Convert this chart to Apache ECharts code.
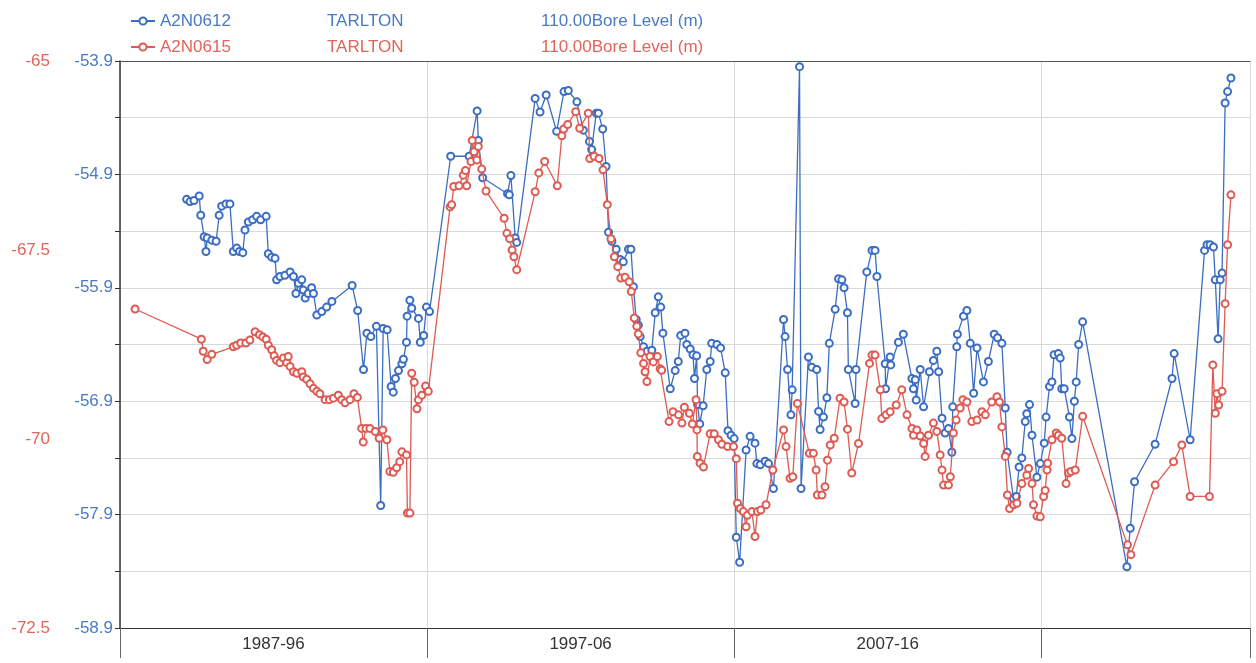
<!DOCTYPE html>
<html><head><meta charset="utf-8">
<script src="https://cdn.jsdelivr.net/npm/echarts/dist/echarts.min.js"></script>
<style>html,body{margin:0;padding:0;background:#fff}#c{width:1256px;height:663px}</style>
</head><body><div id="c"></div>
<script>
const seriesNames = ['A2N0612', 'A2N0615'];
const siteNames = ['TARLTON', 'TARLTON'];
const measureNames = ['110.00Bore Level (m)', '110.00Bore Level (m)'];
const decadeLabels = ['1987-96', '1997-06', '2007-16'];
const decadeMidYears = [1992, 2002, 2012];
const yearRange = [1987, 2023.8];
const blueAxisRange = [-58.9, -53.9, 1];
const redAxisRange = [-72.5, -65, 2.5];

// [decimal year, bore level (m)] for A2N0612
const blueReadings = [
[1989.17,-55.12],[1989.28,-55.14],[1989.41,-55.13],[1989.58,-55.09],[1989.63,-55.26],[1989.74,-55.45],[1989.80,-55.58],[1989.84,-55.46],
[1989.99,-55.48],[1990.13,-55.49],[1990.23,-55.26],[1990.31,-55.18],[1990.45,-55.16],[1990.58,-55.16],[1990.69,-55.58],[1990.80,-55.55],
[1990.89,-55.58],[1991.00,-55.59],[1991.07,-55.39],[1991.18,-55.32],[1991.32,-55.30],[1991.45,-55.27],[1991.58,-55.30],[1991.76,-55.27],
[1991.83,-55.60],[1991.94,-55.63],[1992.05,-55.64],[1992.10,-55.83],[1992.21,-55.80],[1992.37,-55.79],[1992.54,-55.76],[1992.65,-55.80],
[1992.73,-55.95],[1992.81,-55.86],[1992.92,-55.83],[1992.97,-55.92],[1993.03,-55.99],[1993.13,-55.95],[1993.24,-55.90],[1993.30,-55.95],
[1993.41,-56.14],[1993.57,-56.11],[1993.73,-56.07],[1993.90,-56.02],[1994.56,-55.88],[1994.74,-56.10],[1994.93,-56.62],[1995.04,-56.30],
[1995.17,-56.33],[1995.35,-56.24],[1995.49,-57.82],[1995.57,-56.26],[1995.70,-56.27],[1995.83,-56.77],[1995.90,-56.82],[1995.97,-56.70],
[1996.07,-56.63],[1996.18,-56.57],[1996.23,-56.53],[1996.33,-56.38],[1996.35,-56.15],[1996.44,-56.01],[1996.50,-56.08],[1996.72,-56.17],
[1996.78,-56.38],[1996.89,-56.32],[1996.98,-56.07],[1997.08,-56.11],[1997.77,-54.74],[1998.37,-54.74],[1998.63,-54.34],[1998.67,-54.60],
[1998.81,-54.93],[1999.62,-55.07],[1999.68,-55.08],[1999.73,-54.91],[1999.87,-55.46],[1999.92,-55.50],[2000.52,-54.23],[2000.68,-54.35],
[2000.88,-54.20],[2001.22,-54.52],[2001.46,-54.17],[2001.60,-54.16],[2001.88,-54.26],[2002.09,-54.51],[2002.29,-54.61],[2002.36,-54.68],
[2002.51,-54.36],[2002.58,-54.36],[2002.72,-54.50],[2002.83,-54.83],[2002.91,-55.41],[2003.02,-55.49],[2003.16,-55.56],[2003.29,-55.65],
[2003.39,-55.67],[2003.56,-55.56],[2003.64,-55.56],[2003.72,-55.89],[2003.81,-56.18],[2003.88,-56.23],[2003.94,-56.33],[2004.05,-56.42],
[2004.16,-56.46],[2004.32,-56.45],[2004.43,-56.12],[2004.53,-55.98],[2004.61,-56.07],[2004.68,-56.30],[2004.92,-56.79],[2005.08,-56.63],
[2005.18,-56.55],[2005.26,-56.32],[2005.40,-56.30],[2005.46,-56.40],[2005.57,-56.44],[2005.66,-56.49],[2005.71,-56.70],[2005.78,-56.50],
[2005.81,-56.93],[2005.88,-57.10],[2005.99,-56.94],[2006.11,-56.62],[2006.22,-56.55],[2006.27,-56.39],[2006.44,-56.40],[2006.56,-56.43],
[2006.71,-56.65],[2006.80,-57.16],[2006.90,-57.20],[2007.00,-57.23],[2007.07,-58.10],[2007.18,-58.32],[2007.39,-57.33],[2007.52,-57.21],
[2007.68,-57.27],[2007.74,-57.45],[2007.85,-57.46],[2008.01,-57.43],[2008.12,-57.45],[2008.28,-57.67],[2008.61,-56.18],[2008.66,-56.33],
[2008.74,-56.62],[2008.85,-57.02],[2008.89,-56.80],[2009.13,-53.95],[2009.18,-57.67],[2009.42,-56.51],[2009.53,-56.60],[2009.69,-56.62],
[2009.75,-56.99],[2009.80,-57.15],[2009.91,-57.04],[2010.02,-56.87],[2010.10,-56.39],[2010.29,-56.09],[2010.40,-55.82],[2010.51,-55.83],
[2010.58,-55.90],[2010.69,-56.12],[2010.72,-56.62],[2010.94,-56.92],[2010.97,-56.62],[2011.32,-55.76],[2011.49,-55.57],[2011.59,-55.57],
[2011.65,-55.80],[2011.92,-56.57],[2011.93,-56.79],[2012.08,-56.51],[2012.10,-56.58],[2012.35,-56.38],[2012.51,-56.31],[2012.79,-56.70],
[2012.84,-56.79],[2012.90,-56.71],[2012.93,-56.89],[2013.06,-56.62],[2013.17,-56.95],[2013.36,-56.64],[2013.49,-56.54],[2013.60,-56.46],
[2013.66,-56.64],[2013.77,-57.05],[2013.87,-57.18],[2013.98,-57.14],[2014.09,-57.35],[2014.12,-56.95],[2014.25,-56.42],[2014.27,-56.31],
[2014.47,-56.15],[2014.58,-56.10],[2014.69,-56.39],[2014.80,-56.83],[2014.91,-56.43],[2015.12,-56.73],[2015.28,-56.55],[2015.47,-56.31],
[2015.58,-56.34],[2015.72,-56.39],[2015.83,-56.96],[2015.89,-57.35],[2016.10,-57.76],[2016.19,-57.74],[2016.28,-57.48],[2016.37,-57.40],
[2016.48,-57.08],[2016.53,-57.01],[2016.62,-56.93],[2016.70,-57.20],[2016.86,-57.57],[2016.97,-57.45],[2017.10,-57.27],[2017.16,-57.04],
[2017.27,-56.77],[2017.35,-56.73],[2017.42,-56.49],[2017.56,-56.48],[2017.62,-56.52],[2017.67,-56.79],[2017.75,-56.79],[2017.92,-57.04],
[2018.00,-57.23],[2018.08,-56.90],[2018.14,-56.73],[2018.22,-56.40],[2018.35,-56.20],[2019.79,-58.36],[2019.90,-58.02],[2020.04,-57.61],
[2020.71,-57.28],[2021.26,-56.70],[2021.33,-56.48],[2021.85,-57.24],[2022.32,-55.57],[2022.40,-55.52],[2022.50,-55.52],[2022.61,-55.54],
[2022.67,-55.83],[2022.76,-56.35],[2022.83,-55.83],[2022.89,-55.77],[2022.99,-54.27],[2023.07,-54.17],[2023.18,-54.05]
];

// [decimal year, bore level (m)] for A2N0615
const redReadings = [
[1987.49,-68.28],[1989.65,-68.68],[1989.71,-68.84],[1989.84,-68.95],[1989.99,-68.88],[1990.69,-68.78],[1990.80,-68.76],[1990.93,-68.73],
[1991.10,-68.73],[1991.23,-68.69],[1991.40,-68.58],[1991.54,-68.62],[1991.65,-68.65],[1991.76,-68.68],[1991.83,-68.76],[1991.94,-68.82],
[1992.02,-68.90],[1992.10,-68.96],[1992.21,-68.99],[1992.32,-68.93],[1992.43,-68.99],[1992.48,-68.91],[1992.54,-69.04],[1992.65,-69.11],
[1992.76,-69.13],[1992.92,-69.11],[1992.97,-69.18],[1993.08,-69.21],[1993.19,-69.27],[1993.30,-69.33],[1993.41,-69.37],[1993.51,-69.40],
[1993.68,-69.48],[1993.82,-69.48],[1993.95,-69.46],[1994.11,-69.42],[1994.22,-69.48],[1994.33,-69.52],[1994.49,-69.48],[1994.62,-69.40],
[1994.73,-69.45],[1994.87,-69.86],[1994.92,-70.04],[1995.01,-69.86],[1995.14,-69.86],[1995.31,-69.90],[1995.44,-69.99],[1995.56,-69.88],
[1995.69,-70.01],[1995.79,-70.43],[1995.90,-70.44],[1996.01,-70.38],[1996.11,-70.30],[1996.18,-70.17],[1996.33,-70.21],[1996.36,-70.98],
[1996.44,-70.98],[1996.50,-69.13],[1996.58,-69.25],[1996.67,-69.60],[1996.72,-69.48],[1996.83,-69.42],[1996.95,-69.30],[1997.04,-69.37],
[1997.75,-66.93],[1997.80,-66.90],[1997.87,-66.66],[1998.04,-66.65],[1998.18,-66.51],[1998.25,-66.45],[1998.29,-66.65],[1998.43,-66.33],
[1998.47,-66.05],[1998.53,-66.20],[1998.62,-66.31],[1998.67,-66.13],[1998.78,-66.43],[1998.92,-66.72],[1999.51,-67.08],[1999.60,-67.28],
[1999.69,-67.35],[1999.77,-67.50],[1999.83,-67.59],[1999.92,-67.76],[2000.52,-66.73],[2000.64,-66.48],[2000.83,-66.33],[2001.24,-66.65],
[2001.39,-65.99],[2001.45,-65.90],[2001.58,-65.84],[2001.84,-65.67],[2001.97,-65.89],[2002.25,-65.69],[2002.30,-66.29],[2002.44,-66.26],
[2002.60,-66.29],[2002.73,-66.44],[2002.87,-66.90],[2002.99,-67.35],[2003.10,-67.59],[2003.21,-67.72],[2003.31,-67.87],[2003.45,-67.86],
[2003.58,-67.92],[2003.65,-68.05],[2003.75,-68.40],[2003.83,-68.51],[2003.88,-68.61],[2003.96,-68.86],[2004.05,-69.00],[2004.10,-69.11],
[2004.16,-69.24],[2004.26,-68.91],[2004.37,-68.98],[2004.50,-68.91],[2004.59,-69.07],[2004.64,-69.09],[2004.88,-69.77],[2005.01,-69.64],
[2005.19,-69.68],[2005.30,-69.79],[2005.38,-69.58],[2005.54,-69.66],[2005.64,-69.80],[2005.76,-69.48],[2005.79,-69.88],[2005.80,-70.23],
[2005.89,-70.32],[2006.00,-70.37],[2006.22,-69.93],[2006.35,-69.93],[2006.49,-70.01],[2006.60,-70.07],[2006.79,-70.10],[2006.98,-70.10],
[2007.07,-70.26],[2007.11,-70.85],[2007.20,-70.92],[2007.30,-70.96],[2007.39,-71.16],[2007.43,-71.01],[2007.58,-70.96],[2007.68,-71.29],
[2007.76,-70.96],[2007.87,-70.94],[2008.04,-70.87],[2008.26,-70.41],[2008.61,-69.88],[2008.69,-70.10],[2008.82,-70.52],[2008.91,-70.50],
[2009.06,-69.53],[2009.45,-70.19],[2009.58,-70.19],[2009.67,-70.41],[2009.71,-70.74],[2009.86,-70.74],[2009.96,-70.63],[2010.04,-70.28],
[2010.13,-70.08],[2010.26,-69.99],[2010.45,-69.46],[2010.58,-69.51],[2010.69,-69.87],[2010.83,-70.45],[2011.05,-70.06],[2011.41,-69.00],
[2011.49,-68.89],[2011.59,-68.89],[2011.76,-69.35],[2011.81,-69.73],[2011.95,-69.68],[2012.08,-69.64],[2012.28,-69.55],[2012.46,-69.35],
[2012.63,-69.68],[2012.79,-69.86],[2012.84,-69.95],[2012.95,-69.88],[2013.06,-69.96],[2013.17,-70.06],[2013.22,-70.23],[2013.33,-69.95],
[2013.49,-69.79],[2013.60,-69.90],[2013.71,-70.21],[2013.77,-70.41],[2013.82,-70.61],[2013.98,-70.61],[2014.04,-70.50],[2014.14,-69.92],
[2014.23,-69.75],[2014.36,-69.59],[2014.45,-69.48],[2014.58,-69.51],[2014.74,-69.77],[2014.91,-69.75],[2015.07,-69.64],[2015.18,-69.68],
[2015.39,-69.51],[2015.56,-69.44],[2015.64,-69.51],[2015.72,-69.84],[2015.83,-70.23],[2015.90,-70.74],[2015.97,-70.92],[2016.10,-70.87],
[2016.21,-70.85],[2016.37,-70.59],[2016.53,-70.48],[2016.59,-70.39],[2016.70,-70.59],[2016.75,-70.87],[2016.86,-71.02],[2016.97,-71.03],
[2017.08,-70.76],[2017.13,-70.68],[2017.19,-70.41],[2017.21,-70.32],[2017.35,-70.01],[2017.49,-69.92],[2017.56,-69.95],[2017.67,-69.99],
[2017.81,-70.59],[2017.89,-70.45],[2017.97,-70.43],[2018.11,-70.41],[2018.35,-69.70],[2019.81,-71.40],[2019.92,-71.53],[2020.71,-70.61],
[2021.31,-70.30],[2021.58,-70.08],[2021.85,-70.76],[2022.48,-70.76],[2022.59,-69.02],[2022.67,-69.66],[2022.72,-69.40],[2022.78,-69.55],
[2022.89,-69.37],[2022.99,-68.21],[2023.07,-67.43],[2023.18,-66.77]
];

const blueLine = '#3b6dc2', redLine = '#de5a52';
const blueText = '#4a7ac6', redText = '#e2645a';
const FONT = '"Liberation Sans", Arial, sans-serif';

const chart = echarts.init(document.getElementById('c'), null, {renderer: 'canvas'});
chart.setOption({
  animation: false,
  backgroundColor: '#ffffff',
  textStyle: {fontFamily: FONT},
  grid: {left: 120, right: 6, top: 61, bottom: 35},
  legend: {
    orient: 'vertical', left: 125, top: 6, itemWidth: 24, itemHeight: 9, itemGap: 6,
    selectedMode: false,
    data: [
      {name: seriesNames[0], textStyle: {color: blueText}},
      {name: seriesNames[1], textStyle: {color: redText}}
    ],
    formatter: function (name) {
      const i = seriesNames.indexOf(name);
      return '{a|' + seriesNames[i] + '}{b|' + siteNames[i] + '}{c|' + measureNames[i] + '}';
    },
    textStyle: {
      fontSize: 17, fontFamily: FONT, lineHeight: 20,
      rich: {a: {width: 167, fontSize: 17}, b: {width: 214, fontSize: 17}, c: {fontSize: 17}}
    }
  },
  xAxis: [
    {
      type: 'value', min: yearRange[0], max: yearRange[1], interval: 5, position: 'bottom',
      axisLine: {show: true, lineStyle: {color: '#333', width: 1.2}},
      axisTick: {show: false}, splitLine: {show: false},
      axisLabel: {
        color: '#333', fontSize: 17, fontFamily: FONT, margin: 8,
        formatter: function (v) {
          const i = decadeMidYears.indexOf(Math.round(v));
          return (i >= 0 && Math.abs(v - decadeMidYears[i]) < 1e-6) ? decadeLabels[i] : '';
        }
      }
    },
    {
      type: 'value', min: yearRange[0], max: yearRange[1], interval: 10, position: 'bottom',
      axisLine: {show: false},
      axisTick: {show: true, length: 30, lineStyle: {color: '#666'}},
      axisLabel: {show: false},
      splitLine: {show: true, lineStyle: {color: '#d9d9d9', width: 1}}
    },
    {
      type: 'value', min: yearRange[0], max: yearRange[1], position: 'top',
      axisLine: {show: true, lineStyle: {color: '#555', width: 1.2}},
      axisTick: {show: false}, axisLabel: {show: false}, splitLine: {show: false}
    }
  ],
  yAxis: [
    {
      type: 'value', min: blueAxisRange[0], max: blueAxisRange[1], interval: blueAxisRange[2], position: 'left',
      axisLine: {show: true, lineStyle: {color: '#333', width: 1.5}},
      axisTick: {show: true, length: 5, lineStyle: {color: '#333'}},
      minorTick: {show: true, splitNumber: 2, length: 5, lineStyle: {color: '#333'}},
      splitLine: {show: true, lineStyle: {color: '#d9d9d9'}},
      minorSplitLine: {show: true, lineStyle: {color: '#d9d9d9'}},
      axisLabel: {color: blueText, fontSize: 17, fontFamily: FONT, margin: 7}
    },
    {
      type: 'value', min: redAxisRange[0], max: redAxisRange[1], interval: redAxisRange[2], position: 'left', offset: 62,
      axisLine: {show: false}, axisTick: {show: false}, splitLine: {show: false},
      axisLabel: {color: redText, fontSize: 17, fontFamily: FONT, margin: 8}
    }
  ],
  series: [
    {
      type: 'line', name: seriesNames[0], xAxisIndex: 0, yAxisIndex: 0, data: blueReadings,
      color: blueLine, symbol: 'emptyCircle', symbolSize: 7,
      lineStyle: {width: 1.3, color: blueLine}, itemStyle: {borderWidth: 1.3, color: blueLine}, z: 3
    },
    {
      type: 'line', name: seriesNames[1], xAxisIndex: 0, yAxisIndex: 1, data: redReadings,
      color: redLine, symbol: 'emptyCircle', symbolSize: 7,
      lineStyle: {width: 1.3, color: redLine}, itemStyle: {borderWidth: 1.3, color: redLine}, z: 4
    }
  ]
});
</script></body></html>
